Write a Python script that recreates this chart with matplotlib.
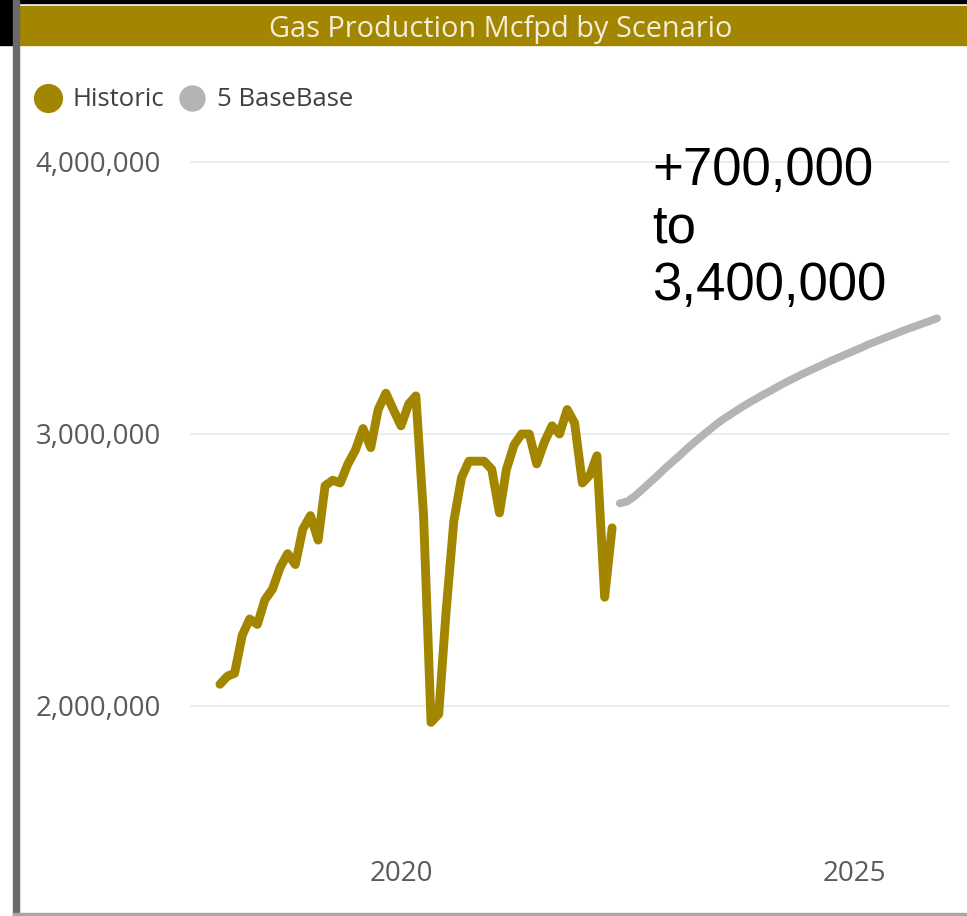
import numpy as np
import pandas as pd
import matplotlib
matplotlib.use('Agg')
import matplotlib.pyplot as plt
import matplotlib.dates as mdates
from matplotlib.lines import Line2D
from matplotlib.patches import Rectangle
from matplotlib.ticker import FuncFormatter

plt.rcParams['font.family'] = ['Open Sans', 'DejaVu Sans']

# monthly gas production, Mcfpd
historic_start = '2018-01-01'
historic = [2.08, 2.11, 2.12, 2.26, 2.32, 2.30, 2.39, 2.43, 2.51, 2.56, 2.52, 2.65,
            2.70, 2.61, 2.81, 2.83, 2.82, 2.89, 2.94, 3.02, 2.95, 3.09, 3.15, 3.09,
            3.03, 3.11, 3.14, 2.70, 1.94, 1.97, 2.35, 2.68, 2.84, 2.90, 2.90, 2.90,
            2.87, 2.71, 2.87, 2.96, 3.00, 3.00, 2.89, 2.97, 3.03, 3.00, 3.09, 3.04,
            2.82, 2.85, 2.92, 2.40, 2.655]
forecast_start = '2022-06-01'
forecast = [2.745, 2.752, 2.772, 2.797, 2.822, 2.848, 2.874, 2.899, 2.924, 2.948,
            2.972, 2.995, 3.018, 3.040, 3.060, 3.078, 3.096, 3.113, 3.129, 3.145,
            3.160, 3.175, 3.190, 3.204, 3.218, 3.231, 3.244, 3.257, 3.270, 3.282,
            3.294, 3.306, 3.318, 3.330, 3.341, 3.352, 3.363, 3.374, 3.385, 3.395,
            3.405, 3.415, 3.425]
series_names = ['Historic', '5 BaseBase']
y_ticks = [2000000, 3000000, 4000000]
title = 'Gas Production Mcfpd by Scenario'
note = '+700,000\nto\n3,400,000'

gold = '#A38600'
grey = '#B4B4B4'

hist_dates = pd.date_range(historic_start, periods=len(historic), freq='MS')
fc_dates = pd.date_range(forecast_start, periods=len(forecast), freq='MS')
hist_vals = np.array(historic) * 1e6
fc_vals = np.array(forecast) * 1e6

W, H = 967, 916
fig = plt.figure(figsize=(W / 100, H / 100), dpi=100)

# frame decorations (pixel based)
def px_rect(x0, y0, x1, y1, color):
    fig.patches.append(Rectangle((x0 / W, 1 - y1 / H), (x1 - x0) / W, (y1 - y0) / H,
                                 transform=fig.transFigure, color=color, zorder=0))

px_rect(0, 0, W, 3, '#000000')
px_rect(0, 0, 13, 45, '#000000')
px_rect(20, 6, W, 45, gold)
px_rect(13, 0, 19, H, '#6A6A6A')
px_rect(13, H - 3, W, H, '#A8A8A8')

fig.text(501 / W, 1 - 29 / H, title, color='#F3EEDC', fontsize=20.8,
         ha='center', va='center')

ax = fig.add_axes([190 / W, (H - 850) / H, 760 / W, 710 / H])
ax.plot(hist_dates, hist_vals, color=gold, lw=6.4, solid_joinstyle='round',
        solid_capstyle='round', zorder=3)
ax.plot(fc_dates, fc_vals, color=grey, lw=5.6, solid_joinstyle='round',
        solid_capstyle='round', zorder=3)

# axis limits: 2020 at x=401px, 90.6px per year; 4M at 162px, 272px per million
ref = mdates.date2num(pd.Timestamp('2020-01-01'))
ppd = 90.6 / 365.25
ax.set_xlim(ref - (401 - 190) / ppd, ref + (950 - 401) / ppd)
ax.set_ylim(3e6 + (434 - 850) / 272 * 1e6, 3e6 + (434 - 140) / 272 * 1e6)

ax.set_yticks(y_ticks)
ax.yaxis.set_major_formatter(FuncFormatter(lambda v, p: f'{v:,.0f}'))
ax.xaxis.set_major_locator(mdates.YearLocator(5))
ax.xaxis.set_major_formatter(mdates.DateFormatter('%Y'))
ax.tick_params(axis='y', length=0, pad=21, labelsize=20, labelcolor='#5A5A5A')
ax.tick_params(axis='x', length=0, pad=7, labelsize=20, labelcolor='#5A5A5A')
ax.grid(axis='y', color='#EDEDED', lw=1.5)
ax.set_axisbelow(True)
for s in ax.spines.values():
    s.set_visible(False)

handles = [Line2D([], [], ls='none', marker='o', markersize=20, color=gold),
           Line2D([], [], ls='none', marker='o', markersize=18, color=grey)]
fig.legend(handles, series_names, loc='center left', bbox_to_anchor=(35 / W, 1 - 100 / H),
           ncol=2, frameon=False, fontsize=18.5, handlelength=1.0, handletextpad=0.45,
           columnspacing=0.6, borderpad=0, borderaxespad=0, labelcolor='#404040')

fig.text(652 / W, 1 - 146 / H, note, fontsize=38, family='Liberation Sans',
         color='black', ha='left', va='top', linespacing=1.19)

fig.savefig('out.png', dpi=100)
